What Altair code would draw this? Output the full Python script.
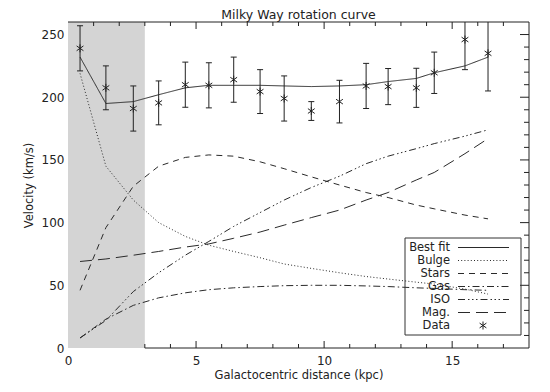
import altair as alt
import pandas as pd

# ---------------- data ----------------
title_text = "Milky Way rotation curve"
x_title = "Galactocentric distance (kpc)"
y_title = "Velocity (km/s)"

r_kpc = [0.47, 1.48, 2.55, 3.54, 4.58, 5.5, 6.47, 7.5, 8.44, 9.5,
         10.6, 11.64, 12.5, 13.6, 14.3, 15.5, 16.4]
v_obs = [239, 207.5, 191, 195.5, 210, 209.5, 214, 204.5, 199, 189,
         196.5, 209, 208.5, 207.5, 219.5, 246, 235]
v_err = [18, 17.5, 18, 17.5, 18, 18, 18, 17.5, 18, 7.5,
         17, 18, 14.4, 15.6, 16.5, 24, 30]
best_fit = [232, 195, 196.5, 202, 207.5, 209.5, 209.5, 209.5, 209, 208.5,
            209, 210, 212.5, 215, 219.5, 225, 232]
bulge = [219, 145, 118, 100, 89, 82, 77, 72, 67, 63.5,
         60, 57, 55, 52.5, 51, 47, 43]
stars = [46, 96, 129, 145, 152, 154, 153, 148.5, 143, 136.5,
         130, 124, 120, 114, 111, 106, 103]
gas = [8, 23, 34, 40, 44, 46.5, 48, 49, 49.7, 50,
       50, 49.5, 49, 48, 47.5, 46.5, 46]
iso = [8, 22, 45, 60, 74, 85, 97, 108, 118, 128,
       137, 147, 153, 159, 163, 169, 174]
mag = [69, 71, 74, 77, 80.5, 83, 87.5, 92.5, 98, 104,
       110, 118, 124, 134, 140, 155, 167]

x_domain = [0, 18]
y_domain = [0, 260]
x_label_values = [0, 5, 10, 15]
y_label_values = [0, 50, 100, 150, 200, 250]
x_tick_step = 1
y_tick_step = 10
shade_range = [0, 3]

legend_labels = ["Best fit", "Bulge", "Stars", "Gas", "ISO", "Mag.", "Data"]

# ---------------- styles ----------------
W, H = 461, 326
FONT = "DejaVu Sans"
INK = "#222222"
LINE = "#2a2a2a"
GRAY = "#d4d4d4"
dashes = {
    "Best fit": [1, 0],
    "Bulge": [1, 2.2],
    "Stars": [6, 5],
    "Gas": [7, 3, 1.5, 3],
    "ISO": [7, 3, 1.5, 2.5, 1.5, 2.5, 1.5, 3],
    "Mag.": [12, 6],
}
asterisk = "M0,-1L0,1M-0.85,-0.6L0.85,0.6M-0.85,0.6L0.85,-0.6"
cap = "M-1,0L1,0"

xs = alt.Scale(domain=x_domain, nice=False, zero=False)
ys = alt.Scale(domain=y_domain, nice=False, zero=False)

x_axis = alt.Axis(values=x_label_values, title=x_title,
                  ticks=False, tickSize=0, domain=False,
                  grid=False, labelPadding=7, labelFlush=False,
                  titlePadding=3, format="d")
y_axis = alt.Axis(values=y_label_values, title=y_title,
                  ticks=False, tickSize=0, domain=False,
                  grid=False, labelPadding=4, labelFlush=False,
                  titlePadding=7, format="d")


def X(field):
    return alt.X(field, scale=xs, axis=x_axis)


def Y(field):
    return alt.Y(field, scale=ys, axis=y_axis)


layers = []

# shaded inner region
shade_df = pd.DataFrame({"x0": [shade_range[0]], "x1": [shade_range[1]],
                         "y0": [y_domain[0]], "y1": [y_domain[1]]})
layers.append(
    alt.Chart(shade_df).mark_rect(color=GRAY).encode(
        x=X("x0:Q"), x2="x1:Q", y=Y("y0:Q"), y2="y1:Q")
)

# component curves
comp = {"Best fit": best_fit, "Bulge": bulge, "Stars": stars,
        "Gas": gas, "ISO": iso, "Mag.": mag}
for name, vals in comp.items():
    df = pd.DataFrame({"r": r_kpc, "v": vals})
    layers.append(
        alt.Chart(df).mark_line(color=LINE, strokeWidth=1,
                                strokeDash=dashes[name], clip=True).encode(
            x=X("r:Q"), y=Y("v:Q"))
    )

# data with error bars
obs = pd.DataFrame({"r": r_kpc, "v": v_obs,
                    "lo": [v - e for v, e in zip(v_obs, v_err)],
                    "hi": [v + e for v, e in zip(v_obs, v_err)]})
layers.append(
    alt.Chart(obs).mark_rule(color=INK, strokeWidth=1, clip=True).encode(
        x=X("r:Q"), y=Y("lo:Q"), y2="hi:Q")
)
for col in ["lo", "hi"]:
    layers.append(
        alt.Chart(obs).mark_point(shape=cap, size=36, filled=False,
                                  color=INK, strokeWidth=1, opacity=1,
                                  clip=True).encode(
            x=X("r:Q"), y=Y(f"{col}:Q"))
    )
layers.append(
    alt.Chart(obs).mark_point(shape=asterisk, size=64, filled=False,
                              color=INK, strokeWidth=1, opacity=1,
                              clip=True).encode(
        x=X("r:Q"), y=Y("v:Q"))
)

# frame lines (top, right, bottom outside the shade)
one = pd.DataFrame({"k": [0]})
layers.append(alt.Chart(one).mark_rule(color=INK, strokeWidth=1).encode(
    x=alt.value(0), x2=alt.value(W), y=alt.value(0)))
layers.append(alt.Chart(one).mark_rule(color=INK, strokeWidth=1).encode(
    x=alt.value(W), y=alt.value(0), y2=alt.value(H)))
layers.append(alt.Chart(pd.DataFrame({"x0": [shade_range[1]]})).mark_rule(
    color=INK, strokeWidth=1).encode(
    x=X("x0:Q"), x2=alt.value(W), y=alt.value(H)))

# tick marks (inward), built from the tick values
x_ticks = list(range(x_domain[0] + x_tick_step, x_domain[1], x_tick_step))
xt = pd.DataFrame({"t": x_ticks})
xt["major"] = xt["t"].isin(x_label_values)
y_ticks = list(range(y_domain[0] + y_tick_step, y_domain[1], y_tick_step))
yt = pd.DataFrame({"t": y_ticks})
yt["major"] = yt["t"].isin(y_label_values)

for major, ln in [(True, 7), (False, 4)]:
    top = xt[xt["major"] == major]
    bot = top[top["t"] >= shade_range[1]]
    layers.append(alt.Chart(top).mark_rule(color=INK, strokeWidth=1).encode(
        x=X("t:Q"), y=alt.value(0), y2=alt.value(ln)))
    layers.append(alt.Chart(bot).mark_rule(color=INK, strokeWidth=1).encode(
        x=X("t:Q"), y=alt.value(H), y2=alt.value(H - ln)))
for major, ln in [(True, 9), (False, 5)]:
    rt = yt[yt["major"] == major]
    layers.append(alt.Chart(rt).mark_rule(color=INK, strokeWidth=1).encode(
        y=Y("t:Q"), x=alt.value(W), x2=alt.value(W - ln)))

# legend box
layers.append(alt.Chart(one).mark_rect(fillOpacity=0, stroke="#333333",
                                       strokeWidth=1).encode(
    x=alt.value(337), x2=alt.value(453), y=alt.value(216), y2=alt.value(313)))
for i, lab in enumerate(legend_labels):
    yy = 225.5 + 13.0 * i
    layers.append(alt.Chart(pd.DataFrame({"label": [lab]})).mark_text(
        align="right", baseline="middle", font=FONT, fontSize=11.5,
        color=INK).encode(text="label:N", x=alt.value(382), y=alt.value(yy)))
    if lab in dashes:
        layers.append(alt.Chart(one).mark_rule(
            color=LINE, strokeWidth=1, strokeDash=dashes[lab]).encode(
            x=alt.value(390), x2=alt.value(441), y=alt.value(yy)))
    else:
        layers.append(alt.Chart(one).mark_point(
            shape=asterisk, size=64, filled=False, color=INK,
            strokeWidth=1, opacity=1).encode(x=alt.value(415), y=alt.value(yy)))

chart = alt.layer(*layers).properties(
    width=W, height=H,
    title=alt.TitleParams(text=title_text, font=FONT, fontSize=12.5,
                          fontWeight="normal", color=INK, anchor="middle",
                          offset=0),
    autosize=alt.AutoSizeParams(type="none"),
    padding={"left": 60, "top": 14, "right": 13, "bottom": 36},
).configure_view(stroke=None).configure_axis(
    labelFont=FONT, labelFontSize=12, labelColor=INK,
    titleFont=FONT, titleFontSize=11.5, titleColor=INK,
    titleFontWeight="normal",
)

chart.save("out.html", embed_options={"renderer": "svg", "actions": False})
